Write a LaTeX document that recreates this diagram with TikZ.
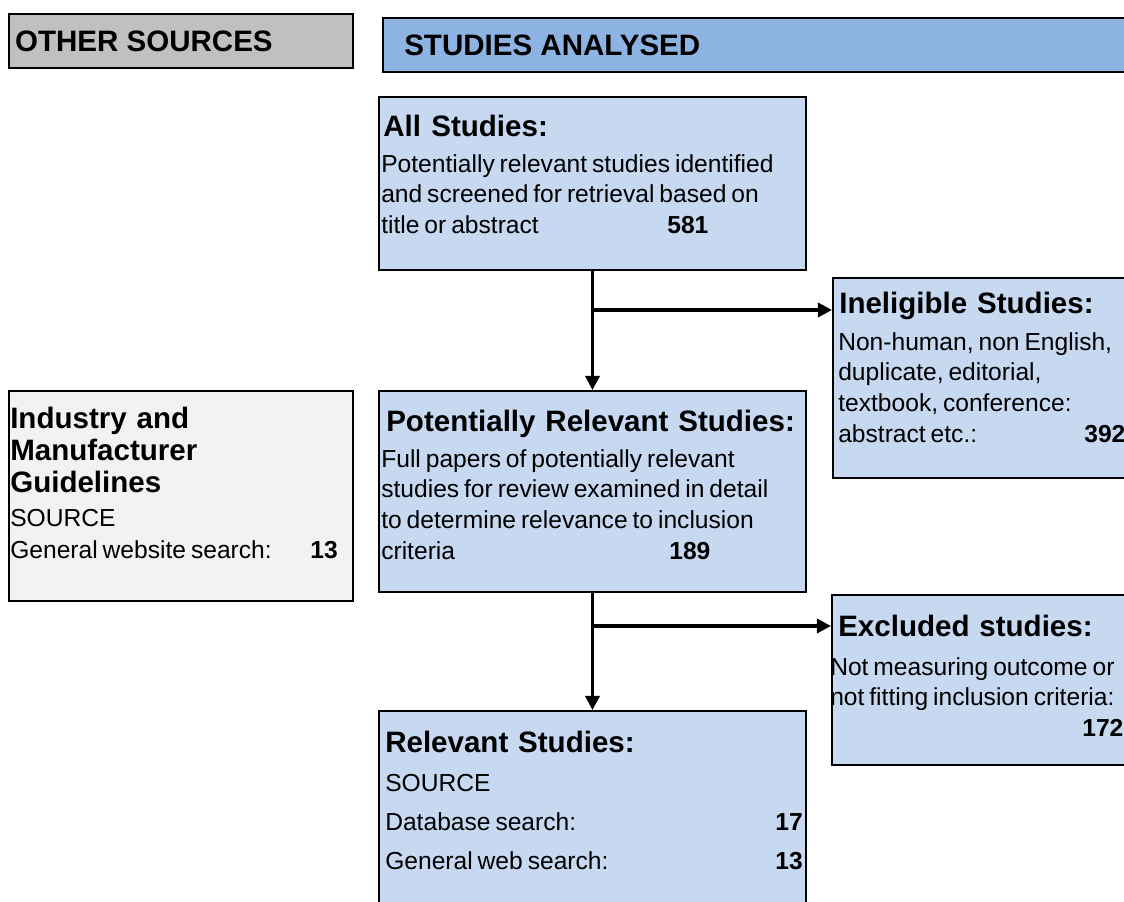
\documentclass[tikz,border=0pt]{standalone}
\usepackage{fontspec}
\setmainfont{Liberation Sans}
\usetikzlibrary{arrows.meta,positioning}
\definecolor{hdrgray}{HTML}{C0C0C0}
\definecolor{hdrblue}{HTML}{8DB3E2}
\definecolor{boxblue}{HTML}{C6D9F1}
\definecolor{boxgray}{HTML}{F2F2F2}
\tikzset{
  panel/.style={draw=black, line width=1.3pt, anchor=north west, inner sep=0pt},
  hdr/.style={anchor=west, inner sep=0pt, font=\fontsize{21}{24}\selectfont\bfseries},
  ttl/.style={anchor=base west, inner sep=0pt, text width=11cm, align=left, font=\fontsize{21}{23}\selectfont\bfseries},
  body/.style={anchor=base west, inner sep=0pt, text width=11cm, align=left, font=\fontsize{17.5}{#1}\selectfont,
    execute at begin node={\spaceskip=0.2em\relax}},
  body/.default=22pt,
  flow/.style={line width=2.3pt, -{Triangle[length=10pt,width=10pt]}},
}
\begin{document}
\begin{tikzpicture}[x=0.025cm, y=-0.025cm]
\useasboundingbox (0,0) rectangle (1124,901);
\clip (0,0) rectangle (1124,901);
% column headers
\node[panel, fill=hdrgray, minimum width=8.6cm, minimum height=1.36cm] (oth) at (8,13) {};
\node[panel, fill=hdrblue, minimum width=19cm, minimum height=1.36cm] (stu) at (382,17) {};
\node[hdr] (othT) at ([xshift=0.17cm]oth.west) {OTHER SOURCES};
\node[hdr] (stuT) at ([xshift=0.55cm]stu.west) {STUDIES ANALYSED};
% boxes
\node[panel, fill=boxblue, minimum width=10.675cm, minimum height=4.325cm] (all) at (378,96) {};
\node[panel, fill=boxblue, minimum width=7.9cm, minimum height=5.0cm] (inel) at (832,277) {};
\node[panel, fill=boxgray, minimum width=8.6cm, minimum height=5.25cm] (ind) at (8,390) {};
\node[panel, fill=boxblue, minimum width=10.675cm, minimum height=5.025cm] (pot) at (378,390) {};
\node[panel, fill=boxblue, minimum width=7.9cm, minimum height=4.25cm] (excl) at (831,594) {};
\node[panel, fill=boxblue, minimum width=10.675cm, minimum height=5.5cm] (rel) at (378,710) {};
% texts
\node[ttl] (allT) at (383,136) {All\hspace{0.35em}Studies:};
\node[body] (allB) at (381,172) {Potentially relevant studies identified\\and screened for retrieval based on\\\makebox[7.15cm][l]{title or abstract}\textbf{581}};
\node[ttl] (inelT) at (839,313) {Ineligible Studies:};
\node[body] (inelB) at (838,350) {Non-human, non English,\\duplicate, editorial,\\textbook, conference:\\\makebox[6.15cm][l]{abstract etc.:}\textbf{392}};
\node[ttl] (indT) at (10,428) {Industry and\\Manufacturer\\Guidelines};
\node[body=23pt] (indB) at (10,526) {SOURCE\\\makebox[7.5cm][l]{General website search:}\textbf{13}};
\node[ttl] (potT) at (386,431) {Potentially Relevant Studies:};
\node[body] (potB) at (381,467) {Full papers of potentially relevant\\studies for review examined in detail\\to determine relevance to inclusion\\\makebox[7.2cm][l]{criteria}\textbf{189}};
\node[ttl] (exclT) at (838,636) {Excluded studies:};
\node[body] (exclB) at (830,675) {Not measuring outcome or\\not fitting inclusion criteria:\\\hspace*{6.3cm}\textbf{172}};
\node[ttl] (relT) at (385,752) {Relevant Studies:};
\node[body=28pt] (relB) at (385,791) {SOURCE\\\makebox[9.75cm][l]{Database search:}\textbf{17}\\\makebox[9.75cm][l]{General web search:}\textbf{13}};
% connectors
\coordinate (br1) at (all.south |- 0,310);
\coordinate (br2) at (pot.south |- 0,626);
\draw[flow] (all.south) -- (pot.north);
\draw[flow] (br1) -- (br1 -| inel.west);
\draw[flow] (pot.south) -- (rel.north);
\draw[flow] (br2) -- (br2 -| excl.west);
\end{tikzpicture}
\end{document}
